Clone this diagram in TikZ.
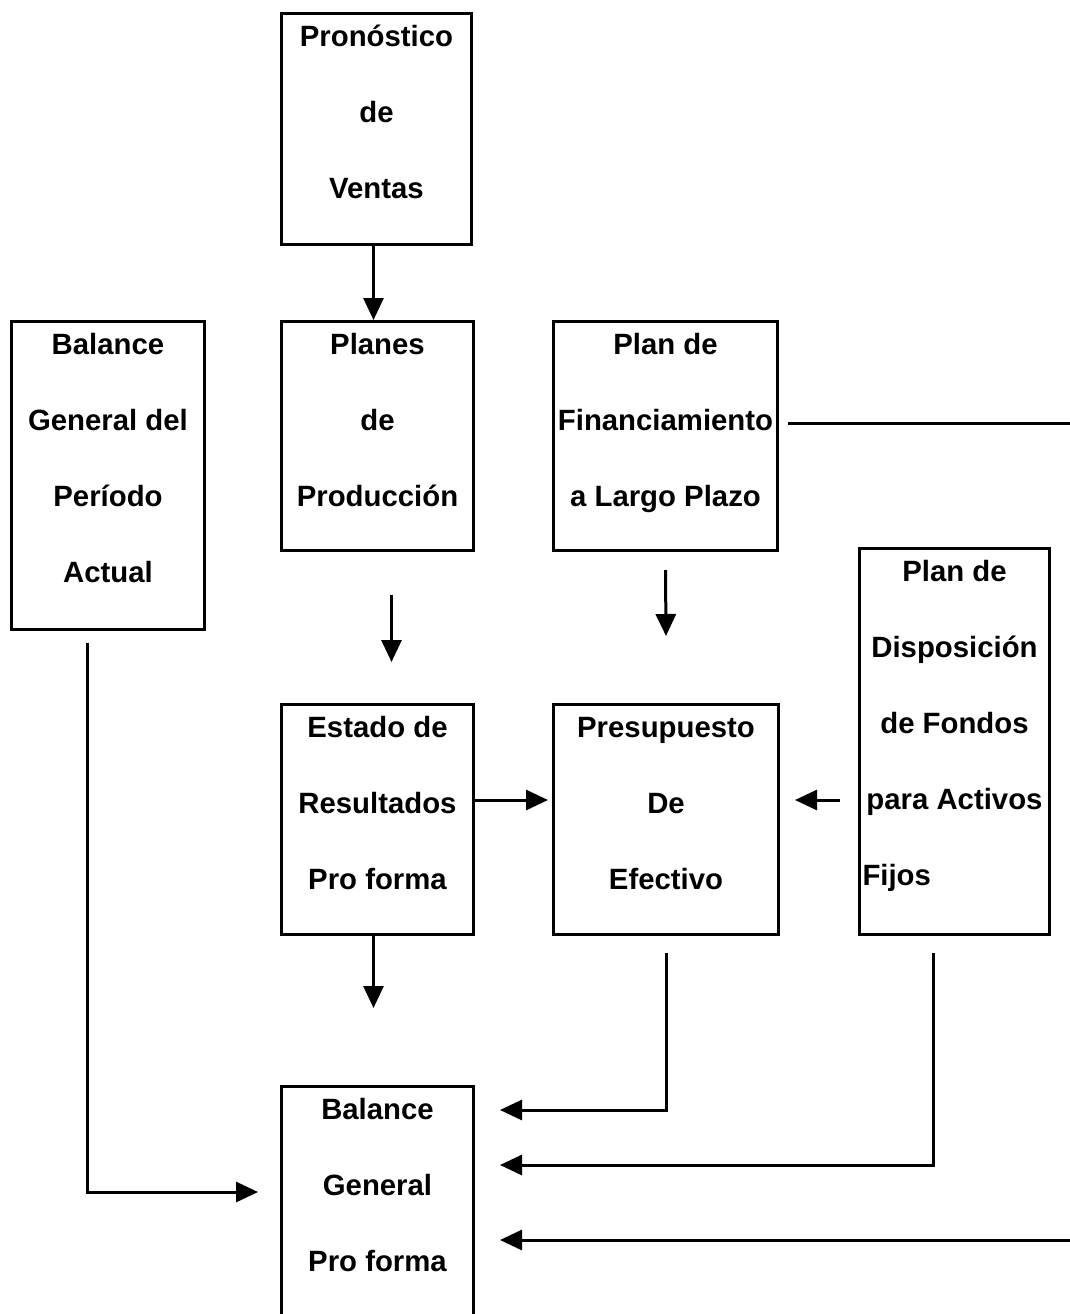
\documentclass[tikz,border=0pt]{standalone}
\usepackage{fontspec}
\setmainfont{Liberation Sans}
\usetikzlibrary{shapes,arrows,arrows.meta,calc}

\newlength{\pxu}
\setlength{\pxu}{0.75pt}
% text of a block, set from the top edge
\newcommand{\textobloque}[3]{\parbox[t][#2\pxu][t]{#1\pxu}{\centering\rule{0pt}{33\pxu}#3}}

\tikzstyle{bloque} = [draw, rectangle, inner sep=0pt, anchor=north west, line width=2.25pt, font=\fontsize{22}{57}\selectfont\bfseries]
\tikzstyle{linea} = [line width=2.25pt]

\begin{document}
\begin{tikzpicture}[auto, x=0.75pt, y=-0.75pt, >={Triangle[length=16.5pt, width=15pt]}]

    \clip (0,0) rectangle (1070,1314);
    \fill [white] (0,0) rectangle (1070,1314);

    % We start by placing the blocks
    \node [bloque] (ventas) at (280,12) {\textobloque{190}{231}{Pronóstico\\de\\Ventas}};
    \node [bloque] (balact) at (10,320) {\textobloque{193}{308}{Balance\\General del\\Período\\Actual}};
    \node [bloque] (prod) at (280,320) {\textobloque{192}{229}{Planes\\de\\Producción}};
    \node [bloque] (financ) at (552,320) {\textobloque{224}{229}{Plan de\\Financiamiento\\a Largo Plazo}};
    \node [bloque] (dispos) at (858,547) {\textobloque{190}{386}{Plan de\\Disposición\\de Fondos\\para Activos\\\makebox[\linewidth][l]{\hspace{3\pxu}Fijos}}};
    \node [bloque] (result) at (280,703) {\textobloque{192}{230}{Estado de\\Resultados\\Pro forma}};
    \node [bloque] (efect) at (552,703) {\textobloque{225}{230}{Presupuesto\\De\\Efectivo}};
    \node [bloque] (balpro) at (280,1085) {\textobloque{192}{260}{Balance\\General\\Pro forma}};

    % Then the connectors
    \draw [->, linea] ($(ventas.south)+(-3,0)$) -- ($(ventas.south |- prod.north)+(-3,0)$);
    \draw [->, linea] ($(prod.south)+(14,43)$) -- ($(result.north)+(14,-41)$);
    \draw [->, linea] ($(financ.south)+(0,18)$) -- ($(efect.north)+(0,-67)$);
    \draw [->, linea] ($(result.north east)+(0,97)$) -- ($(efect.north west)+(-4,97)$);
    \draw [->, linea] ($(dispos.north west)+(-18,253)$) -- ($(efect.north east)+(15,97)$);
    \draw [->, linea] ($(result.south)+(-4,0)$) -- ++(0,72);

    \draw [->, linea] ($(efect.south)+(0,17)$) |- ($(balpro.north east)+(25,25)$);
    \draw [->, linea] ($(dispos.south)+(-21,17)$) |- ($(balpro.north east)+(25,80)$);
    \draw [->, linea] ($(financ.east)+(9,-13)$) -| ($(balpro.north east)+(628,155)$) -- ($(balpro.north east)+(25,155)$);
    \draw [->, linea] ($(balact.south)+(-21,12)$) |- ($(balpro.north west)+(-22,107)$);

\end{tikzpicture}
\end{document}
